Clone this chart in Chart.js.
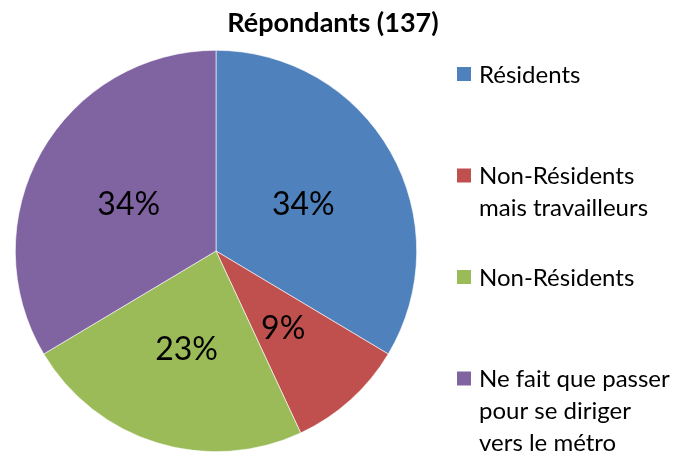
<!DOCTYPE html>
<html>
<head>
<meta charset="utf-8">
<script src="https://cdn.jsdelivr.net/npm/chart.js@4/dist/chart.umd.min.js"></script>
<style>
html,body{margin:0;padding:0;background:#fff;}
#wrap{width:675px;height:453px;position:relative;}
</style>
</head>
<body>
<div id="wrap"><canvas id="c" width="675" height="453"></canvas></div>
<script>
const titleText = 'Répondants (137)';
const categories = ['Résidents', 'Non-Résidents mais travailleurs', 'Non-Résidents', 'Ne fait que passer pour se diriger vers le métro'];
const legendLines = [['Résidents'], ['Non-Résidents', 'mais travailleurs'], ['Non-Résidents'], ['Ne fait que passer', 'pour se diriger', 'vers le métro']];
const counts = [46, 13, 32, 46];
const colors = ['#4F81BD', '#C0504D', '#9BBB59', '#8064A2'];

const FONT = 'Lato, "Open Sans", sans-serif';

const titlePlugin = {
  id: 'sideTitle',
  afterDraw(chart) {
    const ctx = chart.ctx;
    ctx.save();
    ctx.font = 'bold 27px ' + FONT;
    ctx.fillStyle = '#000';
    ctx.textAlign = 'center';
    ctx.textBaseline = 'middle';
    ctx.fillText(titleText, 333, 23);
    ctx.restore();
  }
};

const labelPlugin = {
  id: 'sliceLabels',
  afterDatasetsDraw(chart) {
    const ctx = chart.ctx;
    const meta = chart.getDatasetMeta(0);
    const data = chart.data.datasets[0].data;
    const total = data.reduce((a, b) => a + b, 0);
    ctx.save();
    ctx.font = '32px ' + FONT;
    ctx.fillStyle = '#000';
    ctx.textAlign = 'center';
    ctx.textBaseline = 'middle';
    meta.data.forEach((arc, i) => {
      const mid = (arc.startAngle + arc.endAngle) / 2;
      const r = arc.outerRadius * 0.5;
      const x = arc.x + Math.cos(mid) * r;
      const y = arc.y + Math.sin(mid) * r + 3;
      ctx.fillText(Math.round(data[i] / total * 100) + '%', x, y);
    });
    ctx.restore();
  }
};

const legendPlugin = {
  id: 'sideLegend',
  afterDraw(chart) {
    const ctx = chart.ctx;
    const area = chart.chartArea;
    const x0 = area.right + 40;
    const firstY = 74;
    const step = 101.5;
    const lineH = 32;
    ctx.save();
    ctx.font = '24px ' + FONT;
    ctx.textBaseline = 'middle';
    ctx.textAlign = 'left';
    legendLines.forEach((lines, i) => {
      const y = firstY + i * step;
      ctx.fillStyle = colors[i];
      ctx.fillRect(x0, y - 7, 14, 14);
      ctx.fillStyle = '#000';
      lines.forEach((t, j) => ctx.fillText(t, x0 + 22, y + 1 + j * lineH));
    });
    ctx.restore();
  }
};

new Chart(document.getElementById('c'), {
  type: 'pie',
  data: {
    labels: categories,
    datasets: [{
      data: counts,
      backgroundColor: colors,
      borderColor: '#ffffff',
      borderWidth: 0.6
    }]
  },
  options: {
    responsive: false,
    animation: false,
    layout: { padding: { left: 15, right: 258, top: 50, bottom: 1 } },
    plugins: {
      legend: { display: false },
      tooltip: { enabled: false },
      title: { display: false }
    }
  },
  plugins: [labelPlugin, legendPlugin, titlePlugin]
});
</script>
</body>
</html>
